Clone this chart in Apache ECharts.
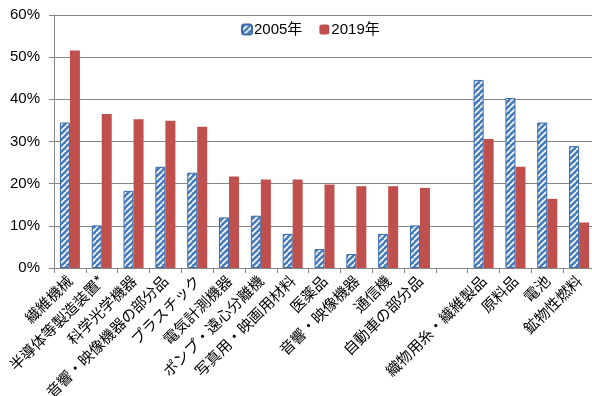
<!DOCTYPE html>
<html>
<head>
<meta charset="utf-8">
<script src="https://cdn.jsdelivr.net/npm/echarts@6/dist/echarts.min.js"></script>
<style>
  html, body { margin: 0; padding: 0; background: #fff; }
  #chart { width: 592px; height: 396px; }
</style>
</head>
<body>
<div id="chart"></div>
<script>
// Product categories (an empty slot separates the two groups)
const categories = [
  '繊維機械', '半導体等製造装置*', '科学光学機器', '音響・映像機器の部分品',
  'プラスチック', '電気計測機器', 'ポンプ・遠心分離機', '写真用・映画用材料',
  '医薬品', '音響・映像機器', '通信機', '自動車の部分品', '',
  '織物用糸・繊維製品', '原料品', '電池', '鉱物性燃料'
];

// Shares in percent
const share2005 = [34.5, 10.1, 18.3, 24.0, 22.6, 12.0, 12.4, 8.1, 4.5, 3.3, 8.1, 10.1, null, 44.6, 40.3, 34.5, 28.9];
const share2019 = [51.6, 36.5, 35.3, 34.9, 33.5, 21.7, 21.0, 21.0, 19.8, 19.4, 19.4, 19.0, null, 30.6, 24.0, 16.4, 10.8];

const seriesNames = ['2005年', '2019年'];
const yTicks = { min: 0, max: 60, step: 10 };

// Diagonal hatch fill for the 2005 bars
function makeHatch() {
  const c = document.createElement('canvas');
  c.width = 6; c.height = 6;
  const g = c.getContext('2d');
  g.fillStyle = '#4a7ebb';
  g.fillRect(0, 0, 6, 6);
  g.strokeStyle = '#ffffff';
  g.lineWidth = 1.6;
  g.beginPath();
  for (let k = -6; k <= 12; k += 6) {
    g.moveTo(k, 6);
    g.lineTo(k + 6, 0);
  }
  g.stroke();
  return c;
}

const chart = echarts.init(document.getElementById('chart'), null, { renderer: 'canvas' });
const fontLatin = "'Liberation Sans', Arial, 'Noto Sans CJK JP', sans-serif";

chart.setOption({
  animation: false,
  backgroundColor: '#ffffff',
  textStyle: { fontFamily: fontLatin },
  legend: {
    data: seriesNames,
    top: 17,
    left: 236,
    itemWidth: 10,
    itemHeight: 10,
    itemGap: 17,
    textStyle: { fontSize: 15, color: '#000', fontFamily: fontLatin, padding: [0, 0, 0, -3] }
  },
  grid: { left: 54, right: -3, top: 15, bottom: 128, containLabel: false, outerBoundsMode: 'none' },
  xAxis: {
    type: 'category',
    data: categories,
    axisLine: { lineStyle: { color: '#868686', width: 1 } },
    axisTick: { show: true, length: 5, lineStyle: { color: '#868686' } },
    axisLabel: {
      interval: 0,
      rotate: 45,
      fontSize: 15,
      color: '#000',
      margin: 10,
      fontFamily: "'Noto Sans CJK JP', sans-serif"
    }
  },
  yAxis: {
    type: 'value',
    min: yTicks.min,
    max: yTicks.max,
    interval: yTicks.step,
    axisLine: { show: true, lineStyle: { color: '#868686' } },
    axisTick: { show: true, length: 5, lineStyle: { color: '#868686' } },
    axisLabel: { formatter: '{value}%', fontSize: 15, color: '#000', margin: 14, fontFamily: fontLatin },
    splitLine: { lineStyle: { color: '#868686', width: 1 } }
  },
  series: [
    {
      name: seriesNames[0],
      type: 'bar',
      data: share2005,
      barWidth: 10,
      barGap: '0%',
      itemStyle: {
        color: { image: makeHatch(), repeat: 'repeat' },
        borderColor: '#3a6aa8',
        borderWidth: 1
      }
    },
    {
      name: seriesNames[1],
      type: 'bar',
      data: share2019,
      barWidth: 10,
      itemStyle: { color: '#c0504d' }
    }
  ]
});
</script>
</body>
</html>
